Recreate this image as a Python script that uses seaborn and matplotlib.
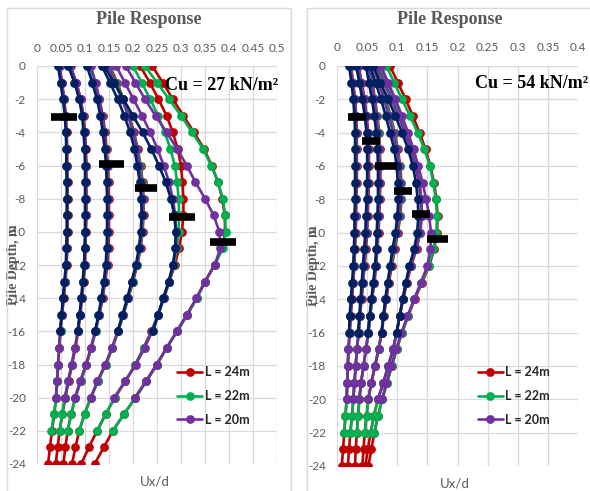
import numpy as np
import pandas as pd
import matplotlib
matplotlib.use("Agg")
import matplotlib.pyplot as plt
from matplotlib.lines import Line2D
from matplotlib.patches import Rectangle
from matplotlib.ticker import FuncFormatter
import seaborn as sns

# profundidade dos nós (m)
depth = [0, -1, -2, -3, -4, -5, -6, -7, -8, -9, -10, -11, -12,
         -13, -14, -15, -16, -17, -18, -19, -20, -21, -22, -23, -24]

# ---- Cu = 27 kN/m2 : Ux/d por nível de carga (1..6) e comprimento L ----
a1_16 = [0.044, 0.049, 0.054, 0.058, 0.060, 0.061, 0.061, 0.062, 0.062, 0.062, 0.062, 0.061, 0.060, 0.057, 0.054, 0.051, 0.048]
a1_20 = [0.047, 0.052, 0.056, 0.059, 0.061, 0.062, 0.062, 0.063, 0.063, 0.063, 0.063, 0.062, 0.061, 0.058, 0.055, 0.052, 0.048, 0.046, 0.044, 0.042, 0.039]
a1_22 = [0.046, 0.051, 0.056, 0.059, 0.061, 0.062, 0.062, 0.063, 0.063, 0.063, 0.063, 0.062, 0.061, 0.058, 0.055, 0.052, 0.049, 0.046, 0.044, 0.042, 0.040, 0.035, 0.030]
a1_24 = [0.047, 0.052, 0.057, 0.060, 0.062, 0.063, 0.063, 0.064, 0.064, 0.064, 0.064, 0.063, 0.062, 0.059, 0.056, 0.052, 0.049, 0.046, 0.044, 0.042, 0.040, 0.036, 0.031, 0.027, 0.023]

a2_16 = [0.065, 0.078, 0.088, 0.094, 0.097, 0.099, 0.100, 0.100, 0.100, 0.100, 0.100, 0.099, 0.098, 0.095, 0.092, 0.089, 0.085]
a2_20 = [0.070, 0.082, 0.091, 0.096, 0.099, 0.101, 0.102, 0.102, 0.102, 0.102, 0.101, 0.100, 0.099, 0.096, 0.093, 0.089, 0.085, 0.079, 0.072, 0.065, 0.058]
a2_22 = [0.068, 0.081, 0.090, 0.096, 0.099, 0.101, 0.102, 0.102, 0.102, 0.102, 0.101, 0.100, 0.099, 0.096, 0.093, 0.089, 0.085, 0.079, 0.072, 0.065, 0.058, 0.052, 0.047]
a2_24 = [0.069, 0.082, 0.091, 0.097, 0.100, 0.102, 0.103, 0.103, 0.103, 0.103, 0.102, 0.101, 0.100, 0.097, 0.094, 0.090, 0.086, 0.080, 0.073, 0.066, 0.059, 0.053, 0.047, 0.043, 0.039]

a3_16 = [0.104, 0.115, 0.125, 0.132, 0.137, 0.141, 0.144, 0.145, 0.146, 0.146, 0.146, 0.145, 0.143, 0.139, 0.134, 0.128, 0.121]
a3_20 = [0.112, 0.122, 0.130, 0.136, 0.140, 0.143, 0.145, 0.147, 0.148, 0.148, 0.148, 0.147, 0.145, 0.141, 0.136, 0.129, 0.121, 0.112, 0.102, 0.090, 0.079]
a3_22 = [0.110, 0.120, 0.129, 0.135, 0.140, 0.143, 0.146, 0.147, 0.148, 0.148, 0.148, 0.147, 0.145, 0.141, 0.136, 0.129, 0.122, 0.113, 0.103, 0.091, 0.080, 0.071, 0.064]
a3_24 = [0.111, 0.121, 0.130, 0.137, 0.142, 0.145, 0.148, 0.149, 0.150, 0.150, 0.150, 0.149, 0.147, 0.142, 0.137, 0.130, 0.122, 0.113, 0.103, 0.091, 0.080, 0.071, 0.064, 0.059, 0.055]

a4_16 = [0.135, 0.152, 0.168, 0.182, 0.194, 0.203, 0.209, 0.214, 0.217, 0.218, 0.216, 0.212, 0.206, 0.197, 0.188, 0.178, 0.168]
a4_20 = [0.148, 0.163, 0.177, 0.190, 0.200, 0.208, 0.213, 0.217, 0.220, 0.220, 0.218, 0.214, 0.207, 0.198, 0.189, 0.179, 0.168, 0.156, 0.142, 0.126, 0.112]
a4_22 = [0.150, 0.165, 0.179, 0.191, 0.201, 0.209, 0.215, 0.219, 0.221, 0.221, 0.219, 0.215, 0.208, 0.199, 0.190, 0.180, 0.169, 0.157, 0.143, 0.127, 0.112, 0.099, 0.088]
a4_24 = [0.152, 0.167, 0.180, 0.192, 0.202, 0.210, 0.216, 0.220, 0.222, 0.222, 0.220, 0.216, 0.209, 0.200, 0.190, 0.180, 0.169, 0.157, 0.143, 0.127, 0.112, 0.099, 0.088, 0.080, 0.073]

a5_16 = [0.140, 0.160, 0.180, 0.200, 0.220, 0.238, 0.254, 0.268, 0.279, 0.286, 0.289, 0.288, 0.283, 0.274, 0.263, 0.252, 0.242]
a5_20 = [0.165, 0.183, 0.201, 0.219, 0.236, 0.251, 0.264, 0.275, 0.283, 0.288, 0.290, 0.289, 0.284, 0.275, 0.264, 0.253, 0.240, 0.224, 0.206, 0.184, 0.161]
a5_22 = [0.200, 0.218, 0.236, 0.252, 0.266, 0.278, 0.287, 0.292, 0.295, 0.296, 0.295, 0.291, 0.285, 0.276, 0.264, 0.252, 0.239, 0.223, 0.205, 0.184, 0.162, 0.143, 0.125]
a5_24 = [0.215, 0.235, 0.253, 0.270, 0.283, 0.293, 0.300, 0.303, 0.305, 0.305, 0.302, 0.296, 0.287, 0.276, 0.264, 0.252, 0.238, 0.222, 0.205, 0.184, 0.162, 0.143, 0.125, 0.108, 0.092]

a6_20 = [0.185, 0.205, 0.225, 0.247, 0.270, 0.292, 0.312, 0.330, 0.350, 0.368, 0.380, 0.382, 0.370, 0.350, 0.332, 0.312, 0.291, 0.270, 0.249, 0.227, 0.204]
a6_22 = [0.225, 0.250, 0.275, 0.300, 0.323, 0.346, 0.363, 0.377, 0.387, 0.392, 0.393, 0.387, 0.370, 0.350, 0.333, 0.313, 0.292, 0.270, 0.250, 0.228, 0.205, 0.181, 0.158]
a6_24 = [0.240, 0.262, 0.283, 0.305, 0.327, 0.348, 0.364, 0.377, 0.386, 0.391, 0.392, 0.386, 0.370, 0.350, 0.333, 0.313, 0.292, 0.270, 0.250, 0.228, 0.205, 0.181, 0.158, 0.139, 0.120]

# ---- Cu = 54 kN/m2 ----
b1_16 = [0.020, 0.024, 0.027, 0.029, 0.030, 0.030, 0.030, 0.030, 0.030, 0.029, 0.029, 0.028, 0.027, 0.025, 0.023, 0.021, 0.020]
b1_20 = [0.022, 0.026, 0.029, 0.031, 0.032, 0.032, 0.032, 0.032, 0.031, 0.031, 0.030, 0.029, 0.028, 0.026, 0.024, 0.022, 0.021, 0.019, 0.018, 0.017, 0.016]
b1_22 = [0.022, 0.026, 0.029, 0.031, 0.032, 0.032, 0.032, 0.032, 0.031, 0.031, 0.030, 0.029, 0.028, 0.026, 0.024, 0.022, 0.021, 0.019, 0.018, 0.017, 0.016, 0.014, 0.012]
b1_24 = [0.023, 0.027, 0.030, 0.032, 0.033, 0.033, 0.033, 0.033, 0.032, 0.032, 0.031, 0.030, 0.029, 0.027, 0.025, 0.023, 0.021, 0.019, 0.018, 0.017, 0.016, 0.014, 0.012, 0.010, 0.008]

b2_16 = [0.032, 0.037, 0.042, 0.046, 0.049, 0.050, 0.050, 0.050, 0.049, 0.048, 0.047, 0.045, 0.043, 0.041, 0.039, 0.037, 0.035]
b2_20 = [0.035, 0.040, 0.045, 0.048, 0.051, 0.052, 0.052, 0.052, 0.051, 0.050, 0.049, 0.047, 0.045, 0.043, 0.040, 0.038, 0.036, 0.033, 0.031, 0.029, 0.027]
b2_22 = [0.035, 0.040, 0.045, 0.048, 0.051, 0.052, 0.052, 0.052, 0.051, 0.050, 0.049, 0.047, 0.045, 0.043, 0.040, 0.038, 0.036, 0.033, 0.031, 0.029, 0.027, 0.025, 0.022]
b2_24 = [0.036, 0.041, 0.046, 0.049, 0.052, 0.053, 0.053, 0.053, 0.052, 0.051, 0.050, 0.048, 0.046, 0.043, 0.041, 0.038, 0.036, 0.033, 0.031, 0.029, 0.027, 0.025, 0.022, 0.020, 0.018]

b3_16 = [0.048, 0.053, 0.058, 0.062, 0.065, 0.067, 0.068, 0.068, 0.068, 0.067, 0.066, 0.065, 0.063, 0.060, 0.057, 0.054, 0.051]
b3_20 = [0.052, 0.057, 0.062, 0.065, 0.068, 0.070, 0.071, 0.071, 0.070, 0.069, 0.068, 0.066, 0.064, 0.061, 0.058, 0.055, 0.052, 0.048, 0.044, 0.040, 0.037]
b3_22 = [0.053, 0.058, 0.062, 0.066, 0.069, 0.070, 0.071, 0.071, 0.070, 0.069, 0.068, 0.066, 0.064, 0.061, 0.058, 0.055, 0.052, 0.048, 0.044, 0.040, 0.037, 0.035, 0.033]
b3_24 = [0.054, 0.059, 0.063, 0.067, 0.070, 0.071, 0.072, 0.072, 0.071, 0.070, 0.069, 0.067, 0.065, 0.062, 0.058, 0.055, 0.052, 0.048, 0.044, 0.040, 0.037, 0.035, 0.033, 0.031, 0.030]

b4_16 = [0.055, 0.064, 0.073, 0.081, 0.088, 0.095, 0.099, 0.101, 0.102, 0.100, 0.097, 0.092, 0.088, 0.084, 0.080, 0.077, 0.074]
b4_20 = [0.060, 0.069, 0.078, 0.086, 0.093, 0.099, 0.103, 0.105, 0.105, 0.103, 0.099, 0.094, 0.089, 0.085, 0.081, 0.077, 0.074, 0.069, 0.063, 0.057, 0.052]
b4_22 = [0.062, 0.071, 0.080, 0.088, 0.095, 0.100, 0.104, 0.106, 0.106, 0.104, 0.100, 0.095, 0.090, 0.085, 0.081, 0.077, 0.074, 0.069, 0.063, 0.057, 0.052, 0.049, 0.046]
b4_24 = [0.063, 0.072, 0.081, 0.089, 0.096, 0.101, 0.105, 0.107, 0.107, 0.105, 0.101, 0.096, 0.091, 0.086, 0.082, 0.078, 0.074, 0.069, 0.063, 0.057, 0.052, 0.049, 0.046, 0.044, 0.042]

b5_16 = [0.060, 0.072, 0.085, 0.097, 0.108, 0.118, 0.126, 0.131, 0.134, 0.135, 0.133, 0.128, 0.120, 0.114, 0.109, 0.104, 0.099]
b5_20 = [0.066, 0.078, 0.090, 0.102, 0.113, 0.122, 0.130, 0.136, 0.139, 0.140, 0.137, 0.131, 0.122, 0.115, 0.109, 0.104, 0.099, 0.093, 0.085, 0.077, 0.068]
b5_22 = [0.068, 0.080, 0.092, 0.104, 0.114, 0.123, 0.131, 0.136, 0.139, 0.140, 0.137, 0.131, 0.122, 0.115, 0.109, 0.104, 0.099, 0.093, 0.085, 0.077, 0.068, 0.061, 0.056]
b5_24 = [0.070, 0.082, 0.094, 0.105, 0.115, 0.124, 0.132, 0.137, 0.140, 0.141, 0.138, 0.132, 0.123, 0.116, 0.110, 0.104, 0.099, 0.093, 0.085, 0.077, 0.068, 0.061, 0.056, 0.051, 0.047]

b6_20 = [0.073, 0.085, 0.097, 0.108, 0.118, 0.127, 0.135, 0.142, 0.148, 0.153, 0.156, 0.155, 0.150, 0.139, 0.128, 0.117, 0.107, 0.098, 0.090, 0.082, 0.075]
b6_22 = [0.082, 0.095, 0.108, 0.121, 0.134, 0.145, 0.154, 0.160, 0.164, 0.166, 0.165, 0.160, 0.152, 0.140, 0.128, 0.118, 0.108, 0.099, 0.091, 0.083, 0.075, 0.068, 0.062]
b6_24 = [0.088, 0.101, 0.114, 0.126, 0.137, 0.147, 0.155, 0.161, 0.165, 0.167, 0.166, 0.161, 0.153, 0.141, 0.129, 0.118, 0.108, 0.099, 0.091, 0.083, 0.075, 0.068, 0.062, 0.057, 0.052]

# marcas pretas (profundidade do deslocamento máximo)
bar_a_depth = [-3.07, -5.9, -7.35, -9.1, -10.6]
bar_a_x0 = [0.029, 0.129, 0.204, 0.275, 0.360]
bar_a_x1 = [0.083, 0.181, 0.250, 0.330, 0.415]
bar_b_depth = [-3.05, -4.5, -6.0, -7.5, -8.9, -10.4]
bar_b_x0 = [0.018, 0.042, 0.063, 0.095, 0.125, 0.150]
bar_b_x1 = [0.048, 0.072, 0.100, 0.125, 0.155, 0.185]

xticks_a = [0, 0.05, 0.1, 0.15, 0.2, 0.25, 0.3, 0.35, 0.4, 0.45, 0.5]
xticks_b = [0, 0.05, 0.1, 0.15, 0.2, 0.25, 0.3, 0.35, 0.4]
yticks = [0, -2, -4, -6, -8, -10, -12, -14, -16, -18, -20, -22, -24]

curves_a = {
    (24, 1): a1_24, (24, 2): a2_24, (24, 3): a3_24, (24, 4): a4_24, (24, 5): a5_24, (24, 6): a6_24,
    (22, 1): a1_22, (22, 2): a2_22, (22, 3): a3_22, (22, 4): a4_22, (22, 5): a5_22, (22, 6): a6_22,
    (20, 1): a1_20, (20, 2): a2_20, (20, 3): a3_20, (20, 4): a4_20, (20, 5): a5_20, (20, 6): a6_20,
    (16, 1): a1_16, (16, 2): a2_16, (16, 3): a3_16, (16, 4): a4_16, (16, 5): a5_16,
}
curves_b = {
    (24, 1): b1_24, (24, 2): b2_24, (24, 3): b3_24, (24, 4): b4_24, (24, 5): b5_24, (24, 6): b6_24,
    (22, 1): b1_22, (22, 2): b2_22, (22, 3): b3_22, (22, 4): b4_22, (22, 5): b5_22, (22, 6): b6_22,
    (20, 1): b1_20, (20, 2): b2_20, (20, 3): b3_20, (20, 4): b4_20, (20, 5): b5_20, (20, 6): b6_20,
    (16, 1): b1_16, (16, 2): b2_16, (16, 3): b3_16, (16, 4): b4_16, (16, 5): b5_16,
}


def to_frame(curves):
    rows = []
    for (L, load), ux in curves.items():
        for d, u in zip(depth, ux):
            rows.append({"L": L, "load": load, "depth": d, "ux": u})
    return pd.DataFrame(rows)


sns.set_theme(style="white")
plt.rcParams["font.family"] = ["Lato", "DejaVu Sans"]

palette = {24: "#C00000", 22: "#00B050", 20: "#7030A0", 16: "#002060"}
gray = "#595959"
serif = "Liberation Serif"
msize = 6.3
lwidth = 1.9

fig = plt.figure(figsize=(5.9, 4.91), dpi=100)

# molduras dos dois gráficos
fig.patches.append(Rectangle((7 / 590, -0.01), 284 / 590, 1 - 8 / 491 + 0.01,
                             transform=fig.transFigure, fill=False, edgecolor="#d9d9d9", lw=1))
fig.patches.append(Rectangle((307 / 590, -0.01), 300 / 590, 1 - 8 / 491 + 0.01,
                             transform=fig.transFigure, fill=False, edgecolor="#d9d9d9", lw=1))

ax_a = fig.add_axes([37 / 590, 1 - 464 / 491, 240 / 590, 398 / 491])
ax_b = fig.add_axes([337 / 590, 1 - 466 / 491, 241 / 590, 400 / 491])


def draw_panel(ax, curves, bd, bx0, bx1, xticks, cu_text, cu_pos, leg_pos, title_x):
    df = to_frame(curves)
    sns.lineplot(data=df, x="ux", y="depth", hue="L", hue_order=[24, 22, 20, 16],
                 units="load", estimator=None, sort=False, palette=palette,
                 marker="o", markersize=msize, markeredgewidth=0, linewidth=lwidth,
                 legend=False, ax=ax)
    ax.hlines(bd, bx0, bx1, color="black", linewidth=5.5, zorder=10)

    ax.set_xlim(xticks[0], xticks[-1])
    ax.set_ylim(-24, 0)
    ax.xaxis.tick_top()
    ax.set_xticks(xticks)
    ax.set_yticks(yticks)
    ax.xaxis.set_major_formatter(FuncFormatter(lambda v, p: f"{v:g}"))
    ax.yaxis.set_major_formatter(FuncFormatter(lambda v, p: f"{v:g}"))
    ax.tick_params(axis="both", length=0, labelsize=8.5, labelcolor=gray)
    ax.tick_params(axis="x", pad=9)
    ax.tick_params(axis="y", pad=8)
    ax.grid(True, color="#d9d9d9", linewidth=0.9)
    for s in ax.spines.values():
        s.set_visible(False)

    # rótulo do eixo y fica por cima dos números, como no original
    ax.set_ylabel("Pile Depth, m", family=serif, fontweight="bold", color=gray, fontsize=10)
    ax.yaxis.set_label_coords(-0.07, 0.5)
    ax.set_xlabel("Ux/d", color=gray, fontsize=9.5)
    ax.xaxis.set_label_coords(0.49, -0.03)

    ax.text(cu_pos[0], cu_pos[1], cu_text, transform=ax.transAxes, family=serif,
            fontweight="bold", fontsize=13, ha="left", va="center", color="black")

    handles = [Line2D([], [], color=palette[L], marker="o", markersize=msize,
                      markeredgewidth=0, lw=lwidth, label=f"L = {L}m") for L in (24, 22, 20)]
    ax.legend(handles=handles, loc="upper left", bbox_to_anchor=leg_pos, frameon=False,
              prop={"family": "Lato", "weight": "bold", "size": 9}, handlelength=2.0,
              handletextpad=0.2, labelspacing=0.95, borderpad=0, borderaxespad=0)

    fig.text(title_x, 1 - 20 / 491, "Pile Response", ha="center", va="center",
             family=serif, fontweight="bold", fontsize=13, color=gray)


draw_panel(ax_a, curves_a, bar_a_depth, bar_a_x0, bar_a_x1, xticks_a,
           "Cu = 27 kN/m\u00b2", (0.533, 0.95), (0.585, 0.246), 149 / 590)
draw_panel(ax_b, curves_b, bar_b_depth, bar_b_x0, bar_b_x1, xticks_b,
           "Cu = 54 kN/m\u00b2", (0.573, 0.955), (0.585, 0.25), 450 / 590)

fig.savefig("out.png", dpi=100)
